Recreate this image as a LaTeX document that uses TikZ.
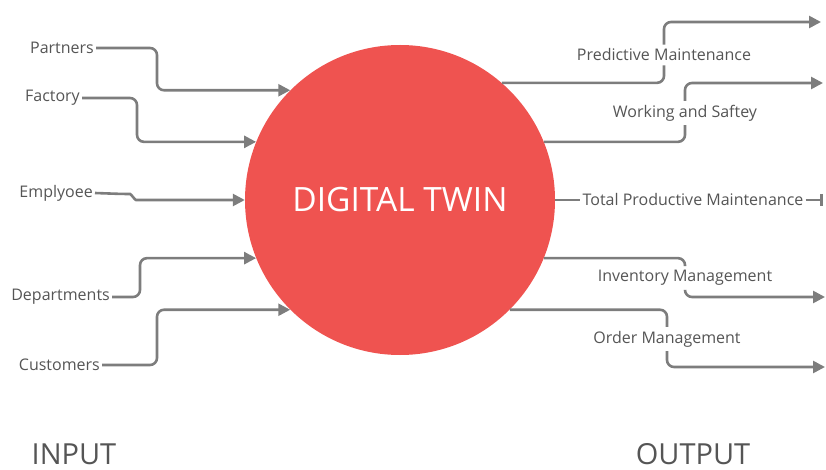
\documentclass[tikz,border=0pt]{standalone}
\usepackage{fontspec}
\setmainfont{Open Sans}
\usepackage{tikz}
\usetikzlibrary{arrows.meta}

\definecolor{twinred}{RGB}{239,83,80}
\definecolor{linkgray}{RGB}{125,125,125}
\definecolor{textgray}{RGB}{85,85,85}

\tikzset{
  link/.style={draw=linkgray, line width=2.6pt, rounded corners=7pt},
  tolink/.style={link, -{Triangle[length=12pt,width=12pt]}},
  inlabel/.style={font=\fontsize{16}{19}\selectfont, text=textgray, inner sep=2pt},
  outlabel/.style={font=\fontsize{16}{19}\selectfont, text=textgray, fill=white, inner sep=4pt},
  sidelabel/.style={font=\fontsize{29}{34}\selectfont, text=textgray, inner sep=0pt, anchor=base}
}

\begin{document}
\begin{tikzpicture}[x=1pt, y=-1pt]
            \useasboundingbox (0,0) rectangle (826,470);
            % the twin
            \node[circle, fill=twinred, minimum size=310pt, inner sep=0pt,
                  text=white, font=\fontsize{33.5}{38}\selectfont] (twin) at (400,200) {DIGITAL TWIN};
            % inputs
            \node[inlabel, anchor=east] (partners) at (96,48) {Partners};
            \node[inlabel, anchor=east] (factory) at (82,98) {Factory};
            \node[inlabel, anchor=east] (employee) at (95,193) {Emplyoee};
            \node[inlabel, anchor=east] (departments) at (112,297) {Departments};
            \node[inlabel, anchor=east] (customers) at (102,365) {Customers};
            \draw[tolink] (partners.east) -- (157,48) |- (twin.135);
            \draw[tolink] (factory.east) -- (137,98) |- (twin.158);
            \draw[tolink] (employee.east) -- (123,194) to[out=0,in=180] (143,200) -- (twin.180);
            \draw[tolink] (departments.east) -- (140,297) |- (twin.202);
            \draw[tolink] (customers.east) -- (157,365) |- (twin.225);
            % outputs
            \node[outlabel] (predictive) at (664,55) {Predictive Maintenance};
            \node[outlabel] (working) at (685,113) {Working and Saftey};
            \node[outlabel, inner sep=2pt] (total) at (693,200) {Total Productive Maintenance};
            \node[outlabel] (inventory) at (685,278) {Inventory Management};
            \node[outlabel] (order) at (667,339) {Order Management};
            \coordinate (predictiveend) at (821,22);
            \coordinate (workingend) at (823,83);
            \coordinate (totalend) at (823,200);
            \coordinate (inventoryend) at (825,297);
            \coordinate (orderend) at (825,367);
            \draw[link] (twin.49) -| (predictive.south);
            \draw[tolink] (predictive.north) |- (predictiveend);
            \draw[link] (twin.22) -| (working.south);
            \draw[tolink] (working.north) |- (workingend);
            \draw[link] (twin.east) -- (total.west);
            \draw[link, -{Bar[width=12pt]}] (total.east) -- (totalend);
            \draw[link] (twin.338) -| (inventory.north);
            \draw[tolink] (inventory.south) |- (inventoryend);
            \draw[link] (twin.315) -| (order.north);
            \draw[tolink] (order.south) |- (orderend);
            % sides
            \node[sidelabel] (input) at (74,464) {INPUT};
            \node[sidelabel] (output) at (693,464) {OUTPUT};
\end{tikzpicture}
\end{document}
